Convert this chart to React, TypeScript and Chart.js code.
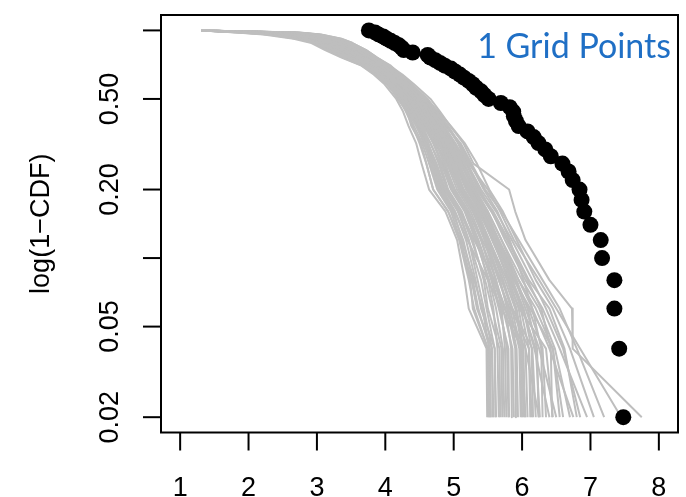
import React, { useEffect, useRef } from "react";
import { Chart, registerables } from "chart.js";

Chart.register(...registerables);

// ---- data ----
const xTicks = [1, 2, 3, 4, 5, 6, 7, 8];
const yTicks = [0.02, 0.05, 0.1, 0.2, 0.5, 1.0];
const yTickLabels = ["0.02", "0.05", "", "0.20", "0.50", ""];
const yTitle = "log(1\u2212CDF)";
const legendText = "1 Grid Points";

// observed sample (sorted) and its survival probabilities
const obsX = [
  3.76, 3.85, 3.9, 3.97, 4.02, 4.08, 4.14, 4.2, 4.24, 4.27,
  4.4, 4.62, 4.66, 4.73, 4.8, 4.87, 4.96, 5.02, 5.09, 5.15,
  5.22, 5.28, 5.33, 5.4, 5.45, 5.51, 5.69, 5.82, 5.87, 5.88,
  5.91, 5.95, 6.08, 6.17, 6.24, 6.34, 6.42, 6.59, 6.68, 6.74,
  6.84, 6.87, 6.91, 7.0, 7.15, 7.17, 7.35, 7.35, 7.42, 7.48,
];
const obsSurv = [
  1.0, 0.98, 0.96, 0.94, 0.92, 0.9, 0.88, 0.86, 0.84, 0.82,
  0.8, 0.78, 0.76, 0.74, 0.72, 0.7, 0.68, 0.66, 0.64, 0.62,
  0.6, 0.58, 0.56, 0.54, 0.52, 0.5, 0.48, 0.46, 0.44, 0.42,
  0.4, 0.38, 0.36, 0.34, 0.32, 0.3, 0.28, 0.26, 0.24, 0.22,
  0.2, 0.18, 0.16, 0.14, 0.12, 0.1, 0.08, 0.06, 0.04, 0.02,
];

// simulated curves: x value reached at each survival level
const simSurv = [
  1.0, 0.98, 0.96, 0.92, 0.88, 0.82, 0.76, 0.7, 0.64, 0.58, 0.5,
  0.44, 0.38, 0.32, 0.26, 0.2, 0.16, 0.12, 0.08, 0.06, 0.04, 0.02,
];
const simCurves = [
  [1.31, 1.82, 2.22, 2.66, 2.92, 3.12, 3.36, 3.65, 3.83, 3.99, 4.16, 4.26, 4.34, 4.45, 4.53, 4.64, 4.88, 5.05, 5.16, 5.22, 5.48, 5.49],
  [1.31, 2.05, 2.35, 2.70, 3.00, 3.15, 3.45, 3.68, 3.86, 4.05, 4.18, 4.32, 4.38, 4.52, 4.60, 4.70, 4.92, 5.08, 5.22, 5.30, 5.50, 5.51],
  [1.31, 1.95, 2.40, 2.82, 3.02, 3.25, 3.42, 3.72, 3.88, 4.06, 4.25, 4.33, 4.45, 4.58, 4.66, 4.78, 4.98, 5.14, 5.28, 5.36, 5.53, 5.54],
  [1.31, 2.20, 2.48, 2.80, 3.08, 3.28, 3.50, 3.76, 3.93, 4.10, 4.28, 4.40, 4.52, 4.62, 4.75, 4.88, 5.08, 5.22, 5.35, 5.44, 5.56, 5.58],
  [1.31, 2.35, 2.65, 2.98, 3.22, 3.42, 3.62, 3.86, 4.02, 4.16, 4.38, 4.45, 4.55, 4.63, 4.72, 4.84, 5.02, 5.18, 5.32, 5.40, 5.60, 5.61],
  [1.31, 2.10, 2.55, 2.95, 3.15, 3.36, 3.58, 3.80, 4.00, 4.15, 4.34, 4.46, 4.60, 4.72, 4.82, 4.98, 5.18, 5.34, 5.50, 5.58, 5.64, 5.66],
  [1.31, 2.45, 2.75, 3.08, 3.30, 3.48, 3.68, 3.92, 4.08, 4.22, 4.45, 4.56, 4.70, 4.85, 4.98, 5.12, 5.30, 5.45, 5.62, 5.70, 5.75, 5.77],
  [1.31, 2.30, 2.68, 3.00, 3.24, 3.44, 3.62, 3.88, 4.04, 4.20, 4.42, 4.58, 4.74, 4.92, 5.06, 5.25, 5.42, 5.60, 5.85, 5.98, 6.10, 6.12],
  [1.31, 2.60, 2.90, 3.22, 3.40, 3.60, 3.78, 3.98, 4.14, 4.30, 4.52, 4.62, 4.72, 4.80, 4.88, 5.00, 5.20, 5.36, 5.55, 5.66, 5.80, 5.81],
  [1.31, 2.70, 3.00, 3.30, 3.48, 3.68, 3.84, 4.04, 4.18, 4.34, 4.58, 4.70, 4.86, 5.02, 5.16, 5.32, 5.50, 5.70, 5.95, 6.20, 6.45, 6.60],
  [1.31, 2.62, 3.02, 3.32, 3.50, 3.70, 3.86, 4.06, 4.25, 4.42, 4.66, 4.80, 4.95, 5.14, 5.29, 5.81, 5.90, 6.05, 6.40, 6.73, 6.74, 7.75],
  [1.31, 2.75, 3.05, 3.35, 3.52, 3.72, 3.88, 4.08, 4.22, 4.38, 4.62, 4.76, 4.92, 5.08, 5.22, 5.50, 5.68, 5.88, 6.25, 6.50, 6.85, 7.45],
  [1.31, 2.00, 2.50, 2.86, 3.10, 3.30, 3.52, 3.74, 3.95, 4.12, 4.30, 4.42, 4.50, 4.66, 4.80, 4.92, 5.12, 5.28, 5.44, 5.50, 5.67, 5.68],
  [1.31, 2.40, 2.70, 3.04, 3.26, 3.44, 3.64, 3.86, 4.04, 4.20, 4.40, 4.52, 4.66, 4.80, 4.94, 5.08, 5.28, 5.46, 5.66, 5.80, 5.92, 5.94],
  [1.31, 2.15, 2.62, 3.02, 3.20, 3.40, 3.60, 3.84, 4.02, 4.18, 4.40, 4.55, 4.72, 4.90, 5.05, 5.22, 5.40, 5.62, 5.90, 6.10, 6.30, 6.35],
  [1.31, 2.50, 2.85, 3.12, 3.34, 3.52, 3.70, 3.94, 4.10, 4.26, 4.50, 4.62, 4.76, 4.94, 5.08, 5.22, 5.42, 5.58, 5.80, 5.95, 6.05, 6.08],
  [1.31, 1.90, 2.30, 2.75, 3.00, 3.20, 3.40, 3.70, 3.90, 4.08, 4.24, 4.36, 4.46, 4.56, 4.68, 4.80, 5.00, 5.12, 5.30, 5.42, 5.52, 5.54],
  [1.31, 2.25, 2.60, 2.92, 3.18, 3.38, 3.56, 3.82, 3.96, 4.14, 4.36, 4.50, 4.64, 4.76, 4.86, 5.02, 5.22, 5.40, 5.58, 5.72, 5.86, 5.88],
  [1.31, 2.65, 2.95, 3.26, 3.45, 3.66, 3.82, 4.02, 4.20, 4.36, 4.56, 4.74, 4.90, 5.06, 5.20, 5.38, 5.56, 5.75, 6.05, 6.30, 6.55, 6.95],
  [1.31, 2.35, 2.72, 3.06, 3.28, 3.50, 3.66, 3.90, 4.06, 4.24, 4.46, 4.60, 4.74, 4.88, 5.00, 5.15, 5.35, 5.52, 5.75, 5.90, 6.00, 6.02],
  [1.31, 2.12, 2.58, 2.94, 3.16, 3.38, 3.60, 3.82, 4.00, 4.16, 4.36, 4.48, 4.60, 4.74, 4.90, 5.05, 5.25, 5.42, 5.70, 5.85, 5.98, 6.00],
  [1.31, 2.55, 2.88, 3.18, 3.40, 3.58, 3.76, 3.98, 4.14, 4.28, 4.52, 4.66, 4.82, 4.98, 5.12, 5.30, 5.48, 5.66, 5.95, 6.15, 6.40, 6.75],
  [1.31, 2.20, 2.52, 2.88, 3.12, 3.32, 3.54, 3.78, 3.96, 4.12, 4.32, 4.44, 4.56, 4.70, 4.82, 4.96, 5.16, 5.32, 5.52, 5.62, 5.72, 5.74],
  [1.31, 2.42, 2.78, 3.10, 3.32, 3.46, 3.66, 3.88, 4.06, 4.22, 4.42, 4.54, 4.68, 4.84, 4.98, 5.14, 5.34, 5.50, 5.72, 5.86, 6.15, 6.20],
  [1.31, 2.58, 2.92, 3.14, 3.36, 3.54, 3.72, 3.94, 4.12, 4.26, 4.48, 4.64, 4.80, 4.96, 5.10, 5.28, 5.46, 5.64, 5.90, 6.05, 6.25, 6.50],
  [1.31, 2.02, 2.45, 2.84, 3.06, 3.26, 3.48, 3.72, 3.92, 4.08, 4.28, 4.38, 4.50, 4.62, 4.74, 4.86, 5.06, 5.22, 5.40, 5.48, 5.60, 5.62],
  [1.31, 2.30, 2.66, 2.96, 3.20, 3.40, 3.62, 3.84, 4.02, 4.18, 4.38, 4.50, 4.62, 4.78, 4.92, 5.10, 5.30, 5.48, 5.68, 5.78, 5.90, 5.91],
  [1.31, 2.48, 2.82, 3.16, 3.38, 3.56, 3.74, 3.96, 4.12, 4.28, 4.48, 4.58, 4.70, 4.84, 4.96, 5.10, 5.32, 5.52, 5.78, 5.92, 6.02, 6.04],
  [1.31, 2.28, 2.64, 3.00, 3.22, 3.42, 3.62, 3.86, 4.04, 4.20, 4.40, 4.54, 4.68, 4.82, 4.96, 5.12, 5.32, 5.50, 5.72, 5.84, 6.10, 6.14],
  [1.31, 2.38, 2.74, 3.04, 3.28, 3.46, 3.66, 3.90, 4.08, 4.24, 4.46, 4.62, 4.78, 4.96, 5.12, 5.30, 5.50, 5.70, 6.00, 6.25, 6.48, 6.70],
  [1.31, 1.88, 2.32, 2.72, 2.98, 3.18, 3.40, 3.68, 3.88, 4.04, 4.22, 4.32, 4.42, 4.54, 4.64, 4.76, 4.96, 5.10, 5.26, 5.34, 5.56, 5.57],
  [1.31, 2.18, 2.56, 2.90, 3.14, 3.34, 3.56, 3.80, 3.98, 4.14, 4.34, 4.48, 4.62, 4.78, 4.92, 5.08, 5.28, 5.46, 5.66, 5.82, 5.96, 5.98],
  [1.31, 2.52, 2.84, 3.12, 3.34, 3.50, 3.70, 3.92, 4.10, 4.26, 4.44, 4.58, 4.72, 4.86, 5.02, 5.18, 5.38, 5.56, 5.82, 6.00, 6.20, 6.26],
  [1.31, 2.08, 2.48, 2.90, 3.12, 3.34, 3.54, 3.78, 3.98, 4.14, 4.34, 4.46, 4.58, 4.70, 4.84, 4.98, 5.18, 5.36, 5.56, 5.68, 5.78, 5.80],
  [1.31, 2.72, 3.06, 3.36, 3.52, 3.72, 3.88, 4.06, 4.22, 4.38, 4.60, 4.72, 4.84, 4.96, 5.08, 5.24, 5.44, 5.62, 5.86, 6.02, 6.14, 6.16],
  [1.31, 2.32, 2.70, 3.02, 3.26, 3.44, 3.64, 3.88, 4.06, 4.22, 4.44, 4.58, 4.72, 4.88, 5.04, 5.20, 5.40, 5.58, 5.80, 5.96, 6.35, 6.45],
  [1.31, 2.15, 2.50, 2.84, 3.08, 3.30, 3.50, 3.76, 3.94, 4.10, 4.30, 4.42, 4.54, 4.66, 4.78, 4.90, 5.10, 5.26, 5.46, 5.56, 5.70, 5.71],
  [1.31, 2.44, 2.80, 3.10, 3.30, 3.48, 3.68, 3.90, 4.06, 4.22, 4.42, 4.56, 4.72, 4.90, 5.06, 5.26, 5.44, 5.60, 5.84, 6.02, 6.18, 6.40],
  [1.31, 2.25, 2.62, 2.96, 3.18, 3.40, 3.60, 3.84, 4.02, 4.20, 4.44, 4.62, 4.82, 5.02, 5.20, 5.40, 5.62, 5.85, 6.15, 6.35, 6.60, 6.85],
  [1.31, 2.40, 2.76, 3.08, 3.30, 3.50, 3.70, 3.92, 4.10, 4.28, 4.50, 4.68, 4.88, 5.10, 5.26, 5.46, 5.70, 5.95, 6.30, 6.55, 6.80, 7.20],
  [1.31, 2.05, 2.45, 2.85, 3.08, 3.28, 3.48, 3.74, 3.92, 4.08, 4.26, 4.36, 4.48, 4.58, 4.70, 4.82, 5.02, 5.20, 5.50, 5.70, 6.00, 6.05],
  [1.31, 1.85, 2.28, 2.70, 2.95, 3.15, 3.38, 3.66, 3.85, 4.02, 4.20, 4.30, 4.40, 4.50, 4.60, 4.70, 4.92, 5.10, 5.24, 5.28, 5.50, 5.52],
  [1.31, 2.55, 2.90, 3.20, 3.42, 3.60, 3.78, 4.00, 4.16, 4.32, 4.55, 4.70, 4.86, 5.02, 5.18, 5.36, 5.58, 5.80, 6.10, 6.40, 6.62, 6.80],
  [1.31, 2.10, 2.50, 2.88, 3.12, 3.32, 3.54, 3.78, 3.96, 4.12, 4.32, 4.46, 4.62, 4.82, 5.00, 5.20, 5.44, 5.66, 5.92, 6.08, 6.22, 6.24],
  [1.31, 2.35, 2.70, 3.02, 3.24, 3.44, 3.62, 3.86, 4.04, 4.20, 4.40, 4.52, 4.66, 4.80, 4.96, 5.14, 5.36, 5.58, 5.88, 6.12, 6.45, 6.55],
  [1.31, 2.60, 2.96, 3.26, 3.46, 3.64, 3.82, 4.02, 4.18, 4.34, 4.56, 4.72, 4.90, 5.08, 5.24, 5.44, 5.64, 5.82, 6.02, 6.15, 6.28, 6.30],
  [1.31, 2.00, 2.42, 2.80, 3.04, 3.24, 3.46, 3.72, 3.90, 4.06, 4.26, 4.36, 4.48, 4.60, 4.72, 4.86, 5.10, 5.30, 5.60, 5.76, 5.84, 5.85],
  [1.31, 2.48, 2.84, 3.14, 3.36, 3.54, 3.72, 3.96, 4.14, 4.30, 4.52, 4.68, 4.84, 5.00, 5.14, 5.34, 5.55, 5.78, 6.08, 6.28, 6.42, 6.44],
  [1.31, 2.22, 2.58, 2.94, 3.16, 3.36, 3.56, 3.80, 3.98, 4.14, 4.34, 4.48, 4.60, 4.74, 4.86, 5.00, 5.22, 5.40, 5.62, 5.74, 6.05, 6.25],
  [1.31, 2.68, 3.02, 3.32, 3.50, 3.70, 3.86, 4.06, 4.22, 4.38, 4.60, 4.78, 4.96, 5.16, 5.34, 5.52, 5.72, 5.92, 6.20, 6.45, 6.70, 7.05],
];

const AXIS_FONT = '27px "Liberation Sans", Arial, Helvetica, sans-serif';

const rAxesPlugin = {
  id: "rAxes",
  afterDraw(chart: any) {
    const { ctx, chartArea: a, scales } = chart;
    const xs = scales.x;
    const ys = scales.y;
    ctx.save();
    ctx.strokeStyle = "#000";
    ctx.fillStyle = "#000";
    ctx.lineWidth = 2;
    ctx.lineCap = "butt";
    ctx.strokeRect(a.left, a.top, a.right - a.left, a.bottom - a.top);

    ctx.font = AXIS_FONT;
    // x axis
    ctx.textAlign = "center";
    ctx.textBaseline = "alphabetic";
    xTicks.forEach((v) => {
      const px = xs.getPixelForValue(v);
      ctx.beginPath();
      ctx.moveTo(px, a.bottom);
      ctx.lineTo(px, a.bottom + 18);
      ctx.stroke();
      ctx.fillText(String(v), px, a.bottom + 63.5);
    });
    // y axis
    yTicks.forEach((v, i) => {
      const py = ys.getPixelForValue(v);
      ctx.beginPath();
      ctx.moveTo(a.left - 18, py);
      ctx.lineTo(a.left, py);
      ctx.stroke();
      const lab = yTickLabels[i];
      if (lab) {
        ctx.save();
        ctx.translate(a.left - 43, py);
        ctx.rotate(-Math.PI / 2);
        ctx.textAlign = "center";
        ctx.fillText(lab, 0, 0);
        ctx.restore();
      }
    });
    // y title
    ctx.save();
    ctx.translate(a.left - 112, (a.top + a.bottom) / 2);
    ctx.rotate(-Math.PI / 2);
    ctx.textAlign = "center";
    ctx.fillText(yTitle, 0, 0);
    ctx.restore();

    // legend text
    ctx.font = '34px Lato, "Open Sans", sans-serif';
    ctx.fillStyle = "#1f6fc5";
    ctx.textAlign = "right";
    ctx.fillText(legendText, a.right - 7, a.top + 43);
    ctx.restore();
  },
};

export default function App() {
  const ref = useRef<HTMLCanvasElement | null>(null);

  useEffect(() => {
    if (!ref.current) return;
    const datasets: any[] = [
      {
        label: "observed",
        data: obsX.map((x, i) => ({ x, y: obsSurv[i] })),
        showLine: false,
        pointRadius: 8,
        pointBackgroundColor: "#000",
        pointBorderWidth: 0,
        order: 0,
      },
    ];
    simCurves.forEach((c, k) => {
      datasets.push({
        label: "sim" + k,
        data: c.map((x, i) => ({ x, y: simSurv[i] })),
        showLine: true,
        borderColor: "#bebebe",
        borderWidth: 2,
        pointRadius: 0,
        tension: 0,
        fill: false,
        borderJoinStyle: "round",
        order: 1,
      });
    });

    const chart = new Chart(ref.current, {
      type: "scatter",
      data: { datasets },
      options: {
        animation: false,
        responsive: false,
        devicePixelRatio: 1,
        layout: { padding: { left: 161, right: 3, top: 15, bottom: 64.5 } },
        plugins: { legend: { display: false }, tooltip: { enabled: false } },
        events: [],
        scales: {
          x: { type: "linear", display: false, min: 0.72, max: 8.28 },
          y: { type: "logarithmic", display: false, min: 0.01713, max: 1.1687 },
        },
      },
      plugins: [rAxesPlugin],
    });
    return () => chart.destroy();
  }, []);

  return (
    <div style={{ position: "fixed", left: 0, top: 0, width: 686, height: 497, background: "#fff" }}>
      <canvas ref={ref} width={686} height={497} style={{ display: "block" }} />
    </div>
  );
}
